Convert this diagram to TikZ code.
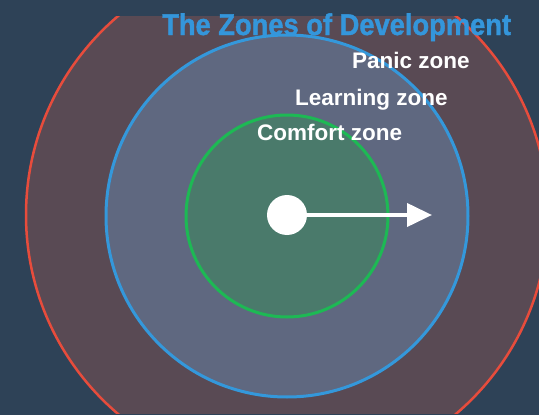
\documentclass[tikz,border=0pt]{standalone}
\usepackage{fontspec}
\setmainfont{Liberation Sans}
\newfontfamily\titlefont[FakeBold=1.4]{Liberation Sans Bold}
\usetikzlibrary{arrows.meta}

\definecolor{bg}{HTML}{2E4257}
\definecolor{panicfill}{HTML}{594A54}
\definecolor{panicline}{HTML}{E74C3C}
\definecolor{learnfill}{HTML}{5F6880}
\definecolor{learnline}{HTML}{3498DB}
\definecolor{comfortfill}{HTML}{4A7A6B}
\definecolor{comfortline}{HTML}{1DB954}
\definecolor{titleblue}{HTML}{3496DB}

\tikzset{
  zone/.style={circle,inner sep=0pt,minimum size=#1},
  zonelabel/.style={anchor=base west,inner sep=0pt,text=white,
    font=\fontsize{22.5}{24}\selectfont\bfseries}
}

\begin{document}
\begin{tikzpicture}[x=1pt,y=-1pt]
  \fill[bg] (0,0) rectangle (539,415);
  \useasboundingbox (0,0) rectangle (539,415);

  % outer ring is cut off at top and bottom
  \begin{scope}
    \clip (0,16) rectangle (539,413);
    \node[zone=522pt,draw=panicline,line width=2.5pt,fill=panicfill] (panic) at (287,215) {};
  \end{scope}
  \node[zone=362pt,draw=learnline,line width=3pt,fill=learnfill] (learning) at (287,216) {};
  \node[zone=202pt,draw=comfortline,line width=3pt,fill=comfortfill] (comfort) at (287,216) {};

  \node[anchor=base west,inner sep=0pt,text=titleblue,yscale=1.1,
    font=\fontsize{27.3}{30}\titlefont] (title) at (162,35) {The Zones of Development};
  \node[zonelabel] (panictext) at (352,68) {Panic zone};
  \node[zonelabel] (learningtext) at (295,105) {Learning zone};
  \node[zonelabel] (comforttext) at (257,140) {Comfort zone};

  \node[circle,fill=white,minimum size=40pt,inner sep=0pt] (dot) at (287,215) {};
  \coordinate (tip) at (432,215);
  \draw[white,line width=4pt,-{Triangle[length=25pt,width=23pt]}] (dot) -- (tip);
\end{tikzpicture}
\end{document}
